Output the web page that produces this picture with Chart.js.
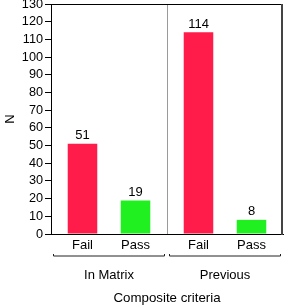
<!DOCTYPE html>
<html>
<head>
<meta charset="utf-8">
<script src="https://cdn.jsdelivr.net/npm/chart.js@4"></script>
<style>
  html, body { margin: 0; padding: 0; background: #fff; }
</style>
</head>
<body>
<canvas id="chart" width="285" height="308"></canvas>
<script>
// data
const groups = ['In Matrix', 'Previous'];
const outcomes = ['Fail', 'Pass'];
const failCounts = [51, 114];
const passCounts = [19, 8];
const yTicksMax = 130;
const yTitle = 'N';
const xTitle = 'Composite criteria';

const FONT = '"Liberation Sans", Arial, sans-serif';

// frame, divider, value labels, Fail/Pass labels and group brackets
const annotate = {
    id: 'annotate',
    afterDatasetsDraw(chart) {
        const { ctx, chartArea: a, scales: { x } } = chart;
        ctx.save();

        // top and right side of the box
        ctx.strokeStyle = '#000';
        ctx.lineWidth = 1;
        ctx.beginPath();
        ctx.moveTo(a.left, a.top + 0.5);
        ctx.lineTo(a.right, a.top + 0.5);
        ctx.stroke();
        ctx.strokeStyle = '#444';
        ctx.lineWidth = 2;
        ctx.beginPath();
        ctx.moveTo(a.right - 1, a.top);
        ctx.lineTo(a.right - 1, a.bottom + 1);
        ctx.stroke();

        // divider between groups
        const half = (x.getPixelForValue(1) - x.getPixelForValue(0)) / 2;
        const mid = x.getPixelForValue(0) + half;
        ctx.strokeStyle = '#9a9a9a';
        ctx.lineWidth = 1;
        ctx.beginPath();
        ctx.moveTo(Math.round(mid) + 0.5, a.top + 1);
        ctx.lineTo(Math.round(mid) + 0.5, a.bottom);
        ctx.stroke();

        ctx.fillStyle = '#000';
        ctx.font = '13px ' + FONT;
        ctx.textAlign = 'center';

        chart.data.datasets.forEach((ds, di) => {
            const meta = chart.getDatasetMeta(di);
            meta.data.forEach((bar, i) => {
                // count above the bar
                ctx.textBaseline = 'alphabetic';
                ctx.fillText(String(ds.data[i]), bar.x, bar.y - 4.5);
                // outcome under the bar
                ctx.textBaseline = 'middle';
                ctx.fillText(ds.label, bar.x, a.bottom + 11.5);
            });
        });

        // brackets under each group
        ctx.strokeStyle = '#222';
        ctx.lineWidth = 1;
        groups.forEach((g, i) => {
            const c = x.getPixelForValue(i);
            const l = c - half + 2.5;
            const r = c + half - 2.5;
            const y = a.bottom + 22;
            ctx.beginPath();
            ctx.moveTo(l, y - 2);
            ctx.lineTo(l, y);
            ctx.lineTo(r, y);
            ctx.lineTo(r, y - 2);
            ctx.stroke();
        });

        ctx.restore();
    }
};

const ctx = document.getElementById('chart').getContext('2d');
new Chart(ctx, {
    type: 'bar',
    data: {
        labels: groups,
        datasets: [
            {
                label: outcomes[0],
                data: failCounts,
                backgroundColor: '#ff1c4a',
                categoryPercentage: 0.914,
                barPercentage: 0.557
            },
            {
                label: outcomes[1],
                data: passCounts,
                backgroundColor: '#20f020',
                categoryPercentage: 0.914,
                barPercentage: 0.557
            }
        ]
    },
    options: {
        responsive: false,
        animation: false,
        layout: { padding: { top: 4, right: 2, left: 0, bottom: 0 } },
        plugins: {
            legend: { display: false },
            tooltip: { enabled: false }
        },
        scales: {
            x: {
                grid: { display: false },
                border: { display: true, color: '#000', width: 1 },
                ticks: {
                    color: '#000',
                    font: { family: FONT, size: 13 },
                    padding: 25.5,
                    maxRotation: 0
                },
                title: {
                    display: true,
                    text: xTitle,
                    color: '#000',
                    font: { family: FONT, size: 13.3 },
                    padding: { top: 0, bottom: 2 }
                },
                afterFit(scale) {
                    scale.height = 74;
                    scale.paddingLeft = 0;
                    scale.paddingRight = 0;
                }
            },
            y: {
                min: 0,
                max: yTicksMax,
                grid: {
                    display: true,
                    drawOnChartArea: false,
                    drawTicks: true,
                    tickLength: 6,
                    color: '#000'
                },
                border: { display: true, color: '#000', width: 1 },
                ticks: {
                    stepSize: 10,
                    autoSkip: false,
                    color: '#000',
                    font: { family: FONT, size: 12.7 },
                    padding: 2
                },
                title: {
                    display: true,
                    text: yTitle,
                    color: '#000',
                    font: { family: FONT, size: 13 },
                    padding: { top: 3, bottom: 0 }
                },
                afterFit(scale) {
                    scale.width = 51;
                    scale.paddingTop = 0;
                    scale.paddingBottom = 0;
                }
            }
        }
    },
    plugins: [annotate]
});
</script>
</body>
</html>
